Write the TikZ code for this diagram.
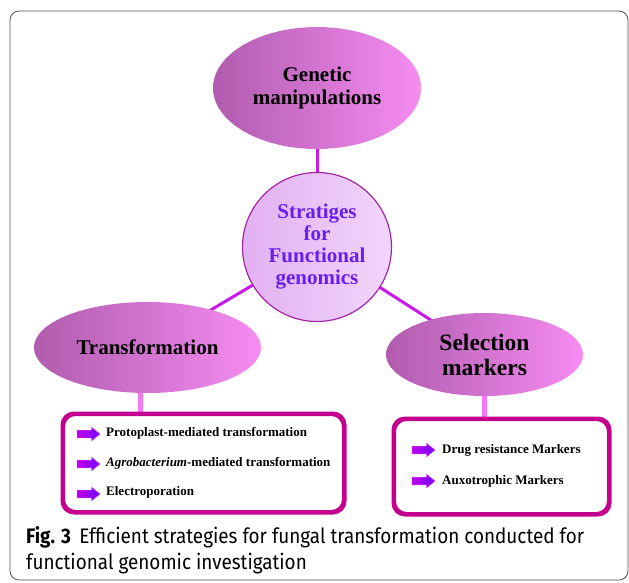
\documentclass[tikz,border=0pt]{standalone}
\usepackage{fontspec}
\setmainfont{Liberation Serif}
\newfontfamily\capfont[FakeStretch=0.9]{Fira Sans}
\usetikzlibrary{shapes.geometric}
\definecolor{ellA}{RGB}{176,92,174}
\definecolor{ellB}{RGB}{246,140,242}
\definecolor{cirA}{RGB}{226,176,242}
\definecolor{cirB}{RGB}{242,214,252}
\definecolor{cirEdge}{RGB}{160,40,160}
\definecolor{cirText}{RGB}{106,30,236}
\definecolor{conn}{RGB}{200,24,232}
\definecolor{stem}{RGB}{244,120,244}
\definecolor{boxEdge}{RGB}{196,0,142}
\definecolor{arrA}{RGB}{190,0,235}
\definecolor{arrB}{RGB}{112,0,255}
\definecolor{arrEdge}{RGB}{226,60,226}
\definecolor{frameC}{RGB}{80,80,80}
\tikzset{
  ell/.style={ellipse, inner sep=0pt, left color=ellA, right color=ellB,
    font=\bfseries\fontsize{21}{23}\selectfont, align=center},
  hub/.style={circle, inner sep=0pt, draw=cirEdge, line width=1.2pt,
    left color=cirA, right color=cirB, text=cirText,
    font=\bfseries\fontsize{21}{22}\selectfont, align=center},
  listbox/.style={draw=boxEdge, line width=3pt, rounded corners=12pt, fill=white, inner sep=0pt},
  connline/.style={draw=conn, line width=3pt},
  stemline/.style={draw=stem, line width=5pt},
  itemtext/.style={inner sep=0pt, font=\bfseries\fontsize{13}{15}\selectfont},
  barrow/.pic={\draw[left color=arrA, right color=arrB, draw=arrEdge, line width=0.4pt]
    (0,-3.8) -- (14.5,-3.8) -- (14.5,-6.8) -- (23,0) -- (14.5,6.8) -- (14.5,3.8) -- (0,3.8) -- cycle;}
}
\begin{document}
\begin{tikzpicture}[x=1pt,y=-1pt]
\useasboundingbox (0,0) rectangle (629,582);
\draw[frameC, line width=0.8pt, rounded corners=9pt] (10,11) rectangle (628,580);

\draw[connline] (317,88) -- (317,247);
\draw[connline] (317,247) -- (147.5,347.5);
\draw[connline] (317,247) -- (484.5,354.5);

\node[ell, minimum width=208pt, minimum height=122pt] (gen) at (317,88) {Genetic\\manipulations};
\node[hub, minimum size=149pt] (circ) at (317,247) {Stratiges\\for\\Functional\\genomics};
\node[ell, minimum width=227pt, minimum height=91pt] (trans) at (147.5,347.5) {Transformation};
\node[ell, minimum width=197pt, minimum height=83pt, font=\bfseries\fontsize{23.5}{25}\selectfont] (sel) at (484.5,354.5) {Selection\\markers};

\node[listbox, minimum width=280pt, minimum height=97pt] (tbox) at (203.5,463) {};
\node[listbox, minimum width=214pt, minimum height=94pt] (sbox) at (501.5,466.5) {};

\draw[stemline] ([xshift=-7.5pt]trans.south) -- ([xshift=-7.5pt]trans.south |- tbox.north);
\draw[stemline] (sel.south) -- (sel.south |- sbox.north);
\draw[listbox, fill=none] (tbox.south west) rectangle (tbox.north east);
\draw[listbox, fill=none] (sbox.south west) rectangle (sbox.north east);

\pic at (77,434) {barrow};
\pic at (77,464) {barrow};
\pic at (77,494) {barrow};
\node[itemtext, anchor=base west] (t1) at (106,436.5) {Protoplast-mediated transformation};
\node[itemtext, anchor=base west] (t2) at (106,466) {\textit{Agrobacterium}-mediated transformation};
\node[itemtext, anchor=base west] (t3) at (106,495.5) {Electroporation};

\pic at (412,450) {barrow};
\pic at (412,481) {barrow};
\node[itemtext, anchor=base west] (s1) at (442,453) {Drug resistance Markers};
\node[itemtext, anchor=base west] (s2) at (442,484) {Auxotrophic Markers};

\node[anchor=base west, inner sep=0pt, align=left, font=\capfont\fontsize{21}{26}\selectfont] (cap) at (26,569)
  {\textbf{Fig. 3}\hspace{0.4em}Efficient strategies for fungal transformation conducted for\\functional genomic investigation};
\end{tikzpicture}
\end{document}
